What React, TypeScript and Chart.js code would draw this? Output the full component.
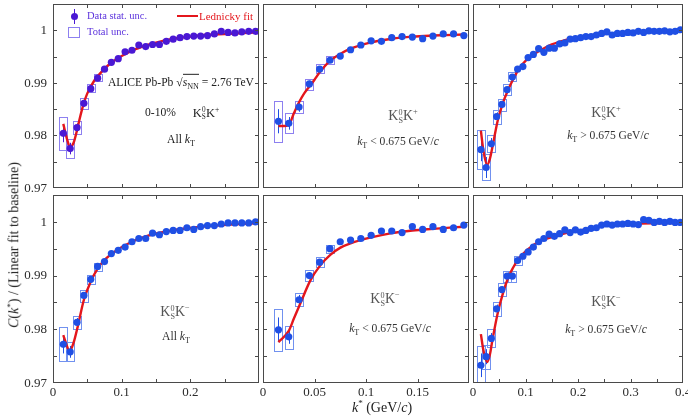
import React, { useEffect, useRef } from 'react';
import { Chart, registerables } from 'chart.js';
Chart.register(...registerables);

const W = 688;
const H = 417;
const SERIF = '"Liberation Serif", "Times New Roman", serif';

// ---------- data ----------
const K_BINS_A = [0.015, 0.025, 0.035, 0.045, 0.055, 0.065, 0.075, 0.085, 0.095, 0.105, 0.115, 0.125, 0.135, 0.145, 0.155, 0.165, 0.175, 0.185, 0.195, 0.205, 0.215, 0.225, 0.235, 0.245, 0.255, 0.265, 0.275, 0.285, 0.295];
const K_BINS_B = [0.015, 0.025, 0.035, 0.045, 0.055, 0.065, 0.075, 0.085, 0.095, 0.105, 0.115, 0.125, 0.135, 0.145, 0.155, 0.165, 0.175, 0.185, 0.195];
const K_BINS_C = [0.015, 0.025, 0.035, 0.045, 0.055, 0.065, 0.075, 0.085, 0.095, 0.105, 0.115, 0.125, 0.135, 0.145, 0.155, 0.165, 0.175, 0.185, 0.195, 0.205, 0.215, 0.225, 0.235, 0.245, 0.255, 0.265, 0.275, 0.285, 0.295, 0.305, 0.315, 0.325, 0.335, 0.345, 0.355, 0.365, 0.375, 0.385, 0.395];

// K0S K+ , all kT
const KP_ALL_C = [0.9804, 0.9775, 0.9815, 0.9861, 0.9889, 0.9909, 0.9926, 0.9939, 0.9946, 0.9959, 0.9962, 0.9972, 0.9969, 0.9973, 0.9973, 0.9979, 0.9983, 0.9986, 0.9988, 0.9989, 0.9989, 0.999, 0.9993, 0.9998, 0.9996, 0.9995, 0.9997, 0.9998, 0.9998];
const KP_ALL_STAT = [0.0017, 0.0011, 0.0008, 0.0006, 0.0005, 0.0004];
const KP_ALL_SYS = [0.0031, 0.0018, 0.0012, 0.001, 0.0008, 0.0007];
const KP_ALL_FIT_K = [0.015, 0.02, 0.025, 0.03, 0.035, 0.04, 0.045, 0.05, 0.06, 0.07, 0.08, 0.09, 0.1, 0.12, 0.14, 0.16, 0.18, 0.2, 0.22, 0.25, 0.3];
const KP_ALL_FIT_C = [0.9822, 0.9795, 0.9778, 0.9786, 0.981, 0.9838, 0.9862, 0.988, 0.9904, 0.992, 0.9933, 0.9943, 0.9951, 0.9964, 0.9973, 0.998, 0.9985, 0.9988, 0.9991, 0.9993, 0.9996];

// K0S K+ , kT < 0.675
const KP_LOW_C = [0.9827, 0.9823, 0.9854, 0.9898, 0.9926, 0.9943, 0.9951, 0.9963, 0.9972, 0.998, 0.9979, 0.9986, 0.9988, 0.9987, 0.9984, 0.9989, 0.9993, 0.9993, 0.999];
const KP_LOW_STAT = [0.0023, 0.0012, 0.0009, 0.0006, 0.0005, 0.0004];
const KP_LOW_SYS = [0.0039, 0.0019, 0.0011, 0.001, 0.0009, 0.0008];
const KP_LOW_FIT_K = [0.015, 0.02, 0.025, 0.03, 0.035, 0.04, 0.045, 0.05, 0.055, 0.065, 0.075, 0.085, 0.105, 0.125, 0.145, 0.165, 0.195];
const KP_LOW_FIT_C = [0.9818, 0.9818, 0.982, 0.9842, 0.9863, 0.988, 0.9893, 0.9906, 0.992, 0.9942, 0.9955, 0.9965, 0.9977, 0.9984, 0.9988, 0.999, 0.9992];

// K0S K+ , kT > 0.675
const KP_HIGH_C = [0.9773, 0.9739, 0.9784, 0.9836, 0.9859, 0.9887, 0.9911, 0.9926, 0.9931, 0.9948, 0.9954, 0.9965, 0.9958, 0.9966, 0.9966, 0.9974, 0.9976, 0.9983, 0.9984, 0.9986, 0.9988, 0.9988, 0.9991, 0.9994, 0.9997, 0.9991, 0.9994, 0.9994, 0.9996, 0.9995, 0.9998, 0.9996, 0.9999, 0.9998, 0.9998, 0.9999, 0.9997, 0.9998, 1.0001];
const KP_HIGH_STAT = [0.0022, 0.002, 0.0011, 0.0008, 0.0006, 0.0005, 0.0004];
const KP_HIGH_SYS = [0.0037, 0.0025, 0.0016, 0.0013, 0.0011, 0.001, 0.0009];
const KP_HIGH_FIT_K = [0.015, 0.02, 0.027, 0.032, 0.037, 0.047, 0.057, 0.067, 0.076, 0.086, 0.105, 0.125, 0.145, 0.175, 0.2, 0.25, 0.32, 0.4];
const KP_HIGH_FIT_C = [0.9809, 0.977, 0.9744, 0.9755, 0.9778, 0.9828, 0.9862, 0.9887, 0.9906, 0.9924, 0.9947, 0.996, 0.9971, 0.9981, 0.9987, 0.9993, 0.9997, 0.9999];

// K0S K- , all kT
const KM_ALL_C = [0.9772, 0.9758, 0.9813, 0.9863, 0.9893, 0.9917, 0.9926, 0.9941, 0.9947, 0.9953, 0.9963, 0.9969, 0.9969, 0.9979, 0.9976, 0.9982, 0.9984, 0.9984, 0.9989, 0.9986, 0.9991, 0.9993, 0.9993, 0.9996, 0.9998, 0.9998, 0.9998, 0.9998, 1.0];
const KM_ALL_STAT = [0.0017, 0.0011, 0.0008, 0.0006, 0.0005, 0.0004];
const KM_ALL_SYS = [0.0032, 0.0018, 0.00125, 0.0011, 0.0008, 0.0007];
const KM_ALL_FIT_K = [0.015, 0.02, 0.024, 0.03, 0.036, 0.045, 0.055, 0.065, 0.075, 0.095, 0.115, 0.135, 0.165, 0.195, 0.235, 0.3];
const KM_ALL_FIT_C = [0.9789, 0.977, 0.9759, 0.9775, 0.9805, 0.9855, 0.9889, 0.9913, 0.9929, 0.9949, 0.9963, 0.9973, 0.9982, 0.9988, 0.9993, 0.9998];

// K0S K- , kT < 0.675
const KM_LOW_C = [0.9799, 0.9786, 0.9855, 0.99, 0.9925, 0.995, 0.9963, 0.9966, 0.9969, 0.9975, 0.9983, 0.9983, 0.998, 0.9991, 0.9986, 0.9991, 0.9986, 0.9989, 0.9994];
const KM_LOW_STAT = [0.0023, 0.0013, 0.0009, 0.0006, 0.0005, 0.0004];
const KM_LOW_SYS = [0.0039, 0.0021, 0.00125, 0.001, 0.0009, 0.00075];
const KM_LOW_FIT_K = [0.015, 0.025, 0.03, 0.036, 0.046, 0.0556, 0.0656, 0.0752, 0.085, 0.105, 0.125, 0.145, 0.165, 0.195];
const KM_LOW_FIT_C = [0.9776, 0.9797, 0.982, 0.9847, 0.9891, 0.9919, 0.9939, 0.9952, 0.996, 0.9971, 0.9979, 0.9984, 0.9987, 0.9991];

// K0S K- , kT > 0.675
const KM_HIGH_C = [0.9733, 0.9749, 0.9783, 0.9838, 0.9874, 0.9899, 0.9899, 0.9928, 0.9936, 0.9944, 0.9953, 0.9963, 0.9969, 0.9977, 0.9973, 0.9978, 0.9985, 0.998, 0.9985, 0.9981, 0.9984, 0.9988, 0.9989, 0.9994, 0.9996, 0.9994, 0.9996, 0.9996, 0.9997, 0.9996, 0.9995, 1.0004, 1.0003, 0.9999, 1.0001, 0.9999, 1.0001, 0.9999, 0.9999];
const KM_HIGH_STAT = [0.0022, 0.0014, 0.001, 0.0008, 0.0006, 0.0005, 0.0005, 0.0004];
const KM_HIGH_SYS = [0.0036, 0.0022, 0.0017, 0.0013, 0.0012, 0.001, 0.001, 0.0008];
const KM_HIGH_FIT_K = [0.015, 0.02, 0.027, 0.032, 0.037, 0.047, 0.057, 0.067, 0.076, 0.086, 0.105, 0.125, 0.155, 0.185, 0.215, 0.25, 0.32, 0.4];
const KM_HIGH_FIT_C = [0.9791, 0.976, 0.9739, 0.9752, 0.978, 0.983, 0.9867, 0.9896, 0.9914, 0.993, 0.9949, 0.9963, 0.9973, 0.9981, 0.9986, 0.9993, 0.9997, 0.9998];

// ---------- axes ----------
const Y_MIN = 0.97;
const Y_MAX = 1.005;
const Y_TICKS = [0.975, 0.98, 0.985, 0.99, 0.995, 1.0];
const Y_LABEL_VALUES = [0.97, 0.98, 0.99, 1.0];
const Y_LABELS = ['0.97', '0.98', '0.99', '1'];

const X_TICKS_A = [0.05, 0.1, 0.15, 0.2, 0.25];
const X_LABEL_VALUES_A = [0, 0.1, 0.2];
const X_LABELS_A = ['0', '0.1', '0.2'];
const X_TICKS_B = [0.05, 0.1, 0.15];
const X_LABEL_VALUES_B = [0, 0.05, 0.1, 0.15];
const X_LABELS_B = ['0', '0.05', '0.1', '0.15'];
const X_TICKS_C = [0.05, 0.1, 0.15, 0.2, 0.25, 0.3, 0.35];
const X_LABEL_VALUES_C = [0, 0.1, 0.2, 0.3, 0.4];
const X_LABELS_C = ['0', '0.1', '0.2', '0.3', '0.4'];

// ---------- layout / style ----------
const COLS: [number, number][] = [[53, 259], [263, 469], [473, 683]];
const ROWS: [number, number][] = [[2, 188], [195, 383]];
const FRAME = '#4a4a4a';
const LABEL = '#2b2b2b';
const RED = '#e4161c';
const MARKER_PURPLE = '#4a18d4';
const BOX_PURPLE = '#8d80f0';
const MARKER_BLUE = '#1f4fe4';
const BOX_BLUE = '#7191ef';

type Panel = {
  col: number; row: number; xMax: number;
  xTicks: number[]; xLabelValues: number[]; xLabels: string[];
  k: number[]; c: number[]; stat: number[]; sys: number[];
  fitK: number[]; fitC: number[]; marker: string; box: string;
};

const PANELS: Panel[] = [
  { col: 0, row: 0, xMax: 0.3, xTicks: X_TICKS_A, xLabelValues: X_LABEL_VALUES_A, xLabels: X_LABELS_A, k: K_BINS_A, c: KP_ALL_C, stat: KP_ALL_STAT, sys: KP_ALL_SYS, fitK: KP_ALL_FIT_K, fitC: KP_ALL_FIT_C, marker: MARKER_PURPLE, box: BOX_PURPLE },
  { col: 1, row: 0, xMax: 0.2, xTicks: X_TICKS_B, xLabelValues: X_LABEL_VALUES_B, xLabels: X_LABELS_B, k: K_BINS_B, c: KP_LOW_C, stat: KP_LOW_STAT, sys: KP_LOW_SYS, fitK: KP_LOW_FIT_K, fitC: KP_LOW_FIT_C, marker: MARKER_BLUE, box: BOX_PURPLE },
  { col: 2, row: 0, xMax: 0.4, xTicks: X_TICKS_C, xLabelValues: X_LABEL_VALUES_C, xLabels: X_LABELS_C, k: K_BINS_C, c: KP_HIGH_C, stat: KP_HIGH_STAT, sys: KP_HIGH_SYS, fitK: KP_HIGH_FIT_K, fitC: KP_HIGH_FIT_C, marker: MARKER_BLUE, box: BOX_BLUE },
  { col: 0, row: 1, xMax: 0.3, xTicks: X_TICKS_A, xLabelValues: X_LABEL_VALUES_A, xLabels: X_LABELS_A, k: K_BINS_A, c: KM_ALL_C, stat: KM_ALL_STAT, sys: KM_ALL_SYS, fitK: KM_ALL_FIT_K, fitC: KM_ALL_FIT_C, marker: MARKER_BLUE, box: BOX_BLUE },
  { col: 1, row: 1, xMax: 0.2, xTicks: X_TICKS_B, xLabelValues: X_LABEL_VALUES_B, xLabels: X_LABELS_B, k: K_BINS_B, c: KM_LOW_C, stat: KM_LOW_STAT, sys: KM_LOW_SYS, fitK: KM_LOW_FIT_K, fitC: KM_LOW_FIT_C, marker: MARKER_BLUE, box: BOX_BLUE },
  { col: 2, row: 1, xMax: 0.4, xTicks: X_TICKS_C, xLabelValues: X_LABEL_VALUES_C, xLabels: X_LABELS_C, k: K_BINS_C, c: KM_HIGH_C, stat: KM_HIGH_STAT, sys: KM_HIGH_SYS, fitK: KM_HIGH_FIT_K, fitC: KM_HIGH_FIT_C, marker: MARKER_BLUE, box: BOX_BLUE },
];

function makePlugin(p: Panel) {
  return {
    id: 'panelDeco' + p.col + p.row,
    beforeDatasetsDraw(chart: any) {
      const { ctx, chartArea: a, scales } = chart;
      const xs = scales.x, ys = scales.y;
      ctx.save();
      ctx.beginPath();
      ctx.rect(a.left, a.top, a.right - a.left, a.bottom - a.top);
      ctx.clip();
      // total-uncertainty boxes
      ctx.strokeStyle = p.box;
      ctx.lineWidth = 1;
      p.sys.forEach((e, i) => {
        const px = xs.getPixelForValue(p.k[i]);
        const y1 = ys.getPixelForValue(p.c[i] + e);
        const y2 = ys.getPixelForValue(p.c[i] - e);
        ctx.strokeRect(Math.round(px - 4) + 0.5, Math.round(y1) + 0.5, 8, Math.round(y2 - y1));
      });
      // statistical error bars
      ctx.strokeStyle = p.marker;
      p.stat.forEach((e, i) => {
        const px = Math.round(xs.getPixelForValue(p.k[i])) + 0.5;
        ctx.beginPath();
        ctx.moveTo(px, ys.getPixelForValue(p.c[i] + e));
        ctx.lineTo(px, ys.getPixelForValue(p.c[i] - e));
        ctx.stroke();
      });
      ctx.restore();
    },
    afterDraw(chart: any) {
      const { ctx, chartArea: a, scales } = chart;
      const xs = scales.x, ys = scales.y;
      ctx.save();
      ctx.strokeStyle = FRAME;
      ctx.lineWidth = 1;
      ctx.strokeRect(a.left + 0.5, a.top + 0.5, a.right - a.left - 1, a.bottom - a.top - 1);
      const T = 4;
      ctx.beginPath();
      Y_TICKS.forEach((v) => {
        const py = Math.round(ys.getPixelForValue(v)) + 0.5;
        ctx.moveTo(a.left, py); ctx.lineTo(a.left + T, py);
        ctx.moveTo(a.right, py); ctx.lineTo(a.right - T, py);
      });
      p.xTicks.forEach((v) => {
        const px = Math.round(xs.getPixelForValue(v)) + 0.5;
        ctx.moveTo(px, a.top); ctx.lineTo(px, a.top + T);
        ctx.moveTo(px, a.bottom); ctx.lineTo(px, a.bottom - T);
      });
      ctx.stroke();
      ctx.fillStyle = LABEL;
      ctx.font = `13px ${SERIF}`;
      if (p.col === 0) {
        ctx.textAlign = 'right';
        ctx.textBaseline = 'middle';
        Y_LABEL_VALUES.forEach((v, i) => {
          ctx.fillText(Y_LABELS[i], a.left - 6, ys.getPixelForValue(v) + 0.5);
        });
      }
      if (p.row === 1) {
        ctx.textAlign = 'center';
        ctx.textBaseline = 'top';
        p.xLabelValues.forEach((v, i) => {
          ctx.fillText(p.xLabels[i], xs.getPixelForValue(v), a.bottom + 3);
        });
      }
      ctx.restore();
    },
  };
}

function PanelCanvas({ p }: { p: Panel }) {
  const ref = useRef<HTMLCanvasElement>(null);
  useEffect(() => {
    const [x0, x1] = COLS[p.col];
    const [y0, y1] = ROWS[p.row];
    const chart = new Chart(ref.current as HTMLCanvasElement, {
      type: 'scatter',
      data: {
        datasets: [
          {
            type: 'line',
            data: p.fitK.map((k, i) => ({ x: k, y: p.fitC[i] })),
            borderColor: RED,
            borderWidth: 2.4,
            pointRadius: 0,
            cubicInterpolationMode: 'monotone',
            fill: false,
            order: 2,
          } as any,
          {
            type: 'scatter',
            data: p.k.map((k, i) => ({ x: k, y: p.c[i] })),
            backgroundColor: p.marker,
            borderColor: p.marker,
            borderWidth: 0,
            pointRadius: 3.6,
            order: 1,
          } as any,
        ],
      },
      options: {
        responsive: false,
        animation: false,
        events: [],
        layout: { padding: { left: x0, top: y0, right: W - x1, bottom: H - y1 } },
        plugins: { legend: { display: false }, tooltip: { enabled: false } },
        scales: {
          x: { type: 'linear', min: 0, max: p.xMax, display: false },
          y: { type: 'linear', min: Y_MIN, max: Y_MAX, display: false },
        },
      },
      plugins: [makePlugin(p)],
    });
    return () => chart.destroy();
  }, []);
  return <canvas ref={ref} width={W} height={H} style={{ position: 'absolute', left: 0, top: 0, width: W, height: H }} />;
}

const abs = (x: number, y: number, extra: React.CSSProperties = {}): React.CSSProperties => ({
  position: 'absolute', left: x, top: y, transform: 'translate(-50%, -50%)', whiteSpace: 'nowrap', fontFamily: SERIF, lineHeight: 1, ...extra,
});

function KK({ sign }: { sign: string }) {
  return (
    <span>
      K
      <span style={{ display: 'inline-block', verticalAlign: '-0.28em', lineHeight: 0.95, fontSize: '0.58em', textAlign: 'center' }}>
        <span style={{ display: 'block' }}>0</span>
        <span style={{ display: 'block' }}>S</span>
      </span>
      K
      <span style={{ fontSize: '0.6em', verticalAlign: '0.75em' }}>{sign}</span>
    </span>
  );
}

function KT({ rel }: { rel: string }) {
  return (
    <span>
      <i>k</i>
      <span style={{ fontSize: '0.7em', verticalAlign: '-0.4em' }}>T</span> {rel} 0.675 GeV/<i>c</i>
    </span>
  );
}

function AllKT() {
  return (
    <span>
      All <i>k</i>
      <span style={{ fontSize: '0.7em', verticalAlign: '-0.4em' }}>T</span>
    </span>
  );
}

export default function App() {
  return (
    <div style={{ position: 'fixed', left: 0, top: 0, width: W, height: H, background: '#fff', overflow: 'hidden' }}>
      {PANELS.map((p, i) => (
        <PanelCanvas key={i} p={p} />
      ))}

      {/* legend */}
      <div style={{ position: 'absolute', left: 74, top: 9, width: 1, height: 15, background: MARKER_PURPLE }} />
      <div style={{ position: 'absolute', left: 71, top: 13, width: 7, height: 7, borderRadius: '50%', background: MARKER_PURPLE }} />
      <div style={{ ...abs(87, 16, { transform: 'translate(0, -50%)', fontSize: 10.5, color: '#5b32dc' }) }}>Data stat. unc.</div>
      <div style={{ position: 'absolute', left: 68, top: 27, width: 12, height: 11, border: `1px solid ${BOX_PURPLE}`, boxSizing: 'border-box' }} />
      <div style={{ ...abs(87, 32, { transform: 'translate(0, -50%)', fontSize: 10.5, color: '#5b32dc' }) }}>Total unc.</div>
      <div style={{ position: 'absolute', left: 177, top: 14.5, width: 21, height: 2.4, background: RED }} />
      <div style={{ ...abs(199, 16, { transform: 'translate(0, -50%)', fontSize: 11, color: RED }) }}>Lednicky fit</div>

      {/* panel 1 annotations */}
      <div style={{ ...abs(108, 84, { transform: 'translate(0, -50%)', fontSize: 11.6, color: '#222' }) }}>
        ALICE Pb-Pb √<span style={{ borderTop: '1px solid #222', paddingTop: 1 }}><i>s</i><span style={{ fontSize: '0.7em', verticalAlign: '-0.4em' }}>NN</span></span> = 2.76 TeV
      </div>
      <div style={{ ...abs(145, 113, { transform: 'translate(0, -50%)', fontSize: 11.6, color: '#222' }) }}>0-10%</div>
      <div style={{ ...abs(206, 113, { fontSize: 12.5, color: '#222' }) }}><KK sign="+" /></div>
      <div style={{ ...abs(181, 141, { fontSize: 11.6, color: '#222' }) }}><AllKT /></div>

      {/* panel 2 */}
      <div style={{ ...abs(403, 116, { fontSize: 14, color: '#555' }) }}><KK sign="+" /></div>
      <div style={{ ...abs(398, 143, { fontSize: 11.6, color: '#333' }) }}><KT rel="<" /></div>
      {/* panel 3 */}
      <div style={{ ...abs(606, 113, { fontSize: 14, color: '#555' }) }}><KK sign="+" /></div>
      <div style={{ ...abs(608, 137, { fontSize: 11.6, color: '#333' }) }}><KT rel=">" /></div>
      {/* panel 4 */}
      <div style={{ ...abs(175, 312, { fontSize: 14, color: '#555' }) }}><KK sign="−" /></div>
      <div style={{ ...abs(176, 338, { fontSize: 11.6, color: '#333' }) }}><AllKT /></div>
      {/* panel 5 */}
      <div style={{ ...abs(385, 299, { fontSize: 14, color: '#555' }) }}><KK sign="−" /></div>
      <div style={{ ...abs(390, 330, { fontSize: 11.6, color: '#333' }) }}><KT rel="<" /></div>
      {/* panel 6 */}
      <div style={{ ...abs(606, 302, { fontSize: 14, color: '#555' }) }}><KK sign="−" /></div>
      <div style={{ ...abs(606, 331, { fontSize: 11.6, color: '#333' }) }}><KT rel=">" /></div>

      {/* axis titles */}
      <div style={{ ...abs(382, 407, { fontSize: 14, color: '#222' }) }}>
        <i>k</i><span style={{ fontSize: '0.65em', verticalAlign: '0.6em' }}>*</span> (GeV/<i>c</i>)
      </div>
      <div style={{ ...abs(14, 245, { fontSize: 14, color: '#222', transform: 'translate(-50%, -50%) rotate(-90deg)' }) }}>
        <i>C</i>(<i>k</i><span style={{ fontSize: '0.65em', verticalAlign: '0.6em' }}>*</span>) / (Linear fit to baseline)
      </div>
    </div>
  );
}
